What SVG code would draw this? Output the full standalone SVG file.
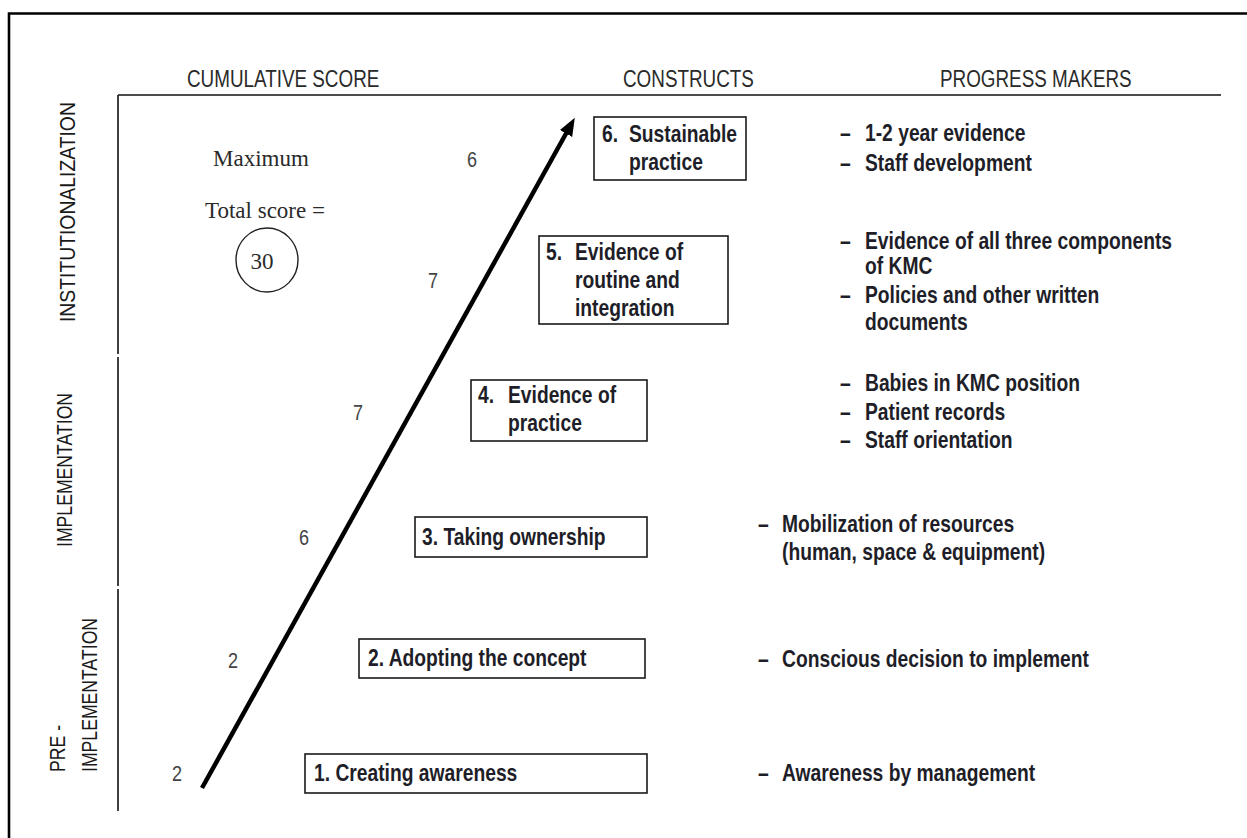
<svg xmlns="http://www.w3.org/2000/svg" width="1247" height="838" viewBox="0 0 1247 838">
<style>
  .hdr { font-family: "Liberation Sans", Arial, sans-serif; font-size: 23px; fill: #2a2a2a; }
  .side { font-family: "Liberation Sans", Arial, sans-serif; font-size: 21.5px; fill: #1a1a1a; }
  .num { font-family: "Liberation Sans", Arial, sans-serif; font-size: 22px; fill: #444; }
  .serif { font-family: "Liberation Serif", "Times New Roman", serif; font-size: 23px; fill: #2a2a2a; }
  .box { fill: #fff; stroke: #1a1a1a; stroke-width: 1.6; }
  .bt { font-family: "Liberation Sans", Arial, sans-serif; font-weight: bold; font-size: 23.5px; fill: #1e1e28; }
  .rule { stroke: #111; stroke-width: 1.6; fill: none; }
</style>
<defs>
  <marker id="ah" markerUnits="userSpaceOnUse" markerWidth="24" markerHeight="24" refX="4" refY="10" orient="auto">
    <path d="M0,3 L18,10 L0,17 Z" fill="#000"/>
  </marker>
</defs>
<rect width="1247" height="838" fill="#fff"/>
<g id="frame">
  <path d="M9,842 L9,13.5 L1250,13.5" fill="none" stroke="#000" stroke-width="2.6"/>
  <line class="rule" x1="118" y1="95" x2="1221" y2="95"/>
  <line class="rule" x1="118" y1="95" x2="118" y2="354"/>
  <line class="rule" x1="118" y1="357" x2="118" y2="586"/>
  <line class="rule" x1="118" y1="589" x2="118" y2="811"/>
</g>
<g id="headers">
  <text class="hdr" transform="matrix(0.82 0 0 1 187 87)">CUMULATIVE SCORE</text>
  <text class="hdr" transform="matrix(0.82 0 0 1 623 87)">CONSTRUCTS</text>
  <text class="hdr" transform="matrix(0.82 0 0 1 940 87)">PROGRESS MAKERS</text>
</g>
<g id="phases">
  <text class="side" transform="translate(75,322) rotate(-90) scale(0.9,1)">INSTITUTIONALIZATION</text>
  <text class="side" transform="translate(72,547) rotate(-90) scale(0.82,1)">IMPLEMENTATION</text>
  <text class="side" transform="translate(65,772) rotate(-90) scale(0.82,1)">PRE -</text>
  <text class="side" transform="translate(97,772) rotate(-90) scale(0.82,1)">IMPLEMENTATION</text>
</g>
<g id="connectors">
  <line x1="202" y1="788" x2="568" y2="130" stroke="#000" stroke-width="4.5" marker-end="url(#ah)"/>
</g>
<g id="scores">
  <text class="num" transform="matrix(0.82 0 0 1 172 781)">2</text>
  <text class="num" transform="matrix(0.82 0 0 1 228 668)">2</text>
  <text class="num" transform="matrix(0.82 0 0 1 299 545)">6</text>
  <text class="num" transform="matrix(0.82 0 0 1 353 420)">7</text>
  <text class="num" transform="matrix(0.82 0 0 1 428 288)">7</text>
  <text class="num" transform="matrix(0.82 0 0 1 467 167)">6</text>
</g>
<g id="total">
  <text class="serif" x="213" y="166">Maximum</text>
  <text class="serif" x="205" y="218">Total score =</text>
  <ellipse cx="267" cy="260" rx="31" ry="32" fill="none" stroke="#222" stroke-width="1.4"/>
  <text class="serif" x="262" y="269" text-anchor="middle" font-size="21">30</text>
</g>
<g id="c1">
  <rect class="box" x="305" y="754" width="342" height="39"/>
  <text class="bt" transform="matrix(0.82 0 0 1 314 781)">1. Creating awareness</text>
</g>
<g id="c2">
  <rect class="box" x="359" y="639" width="286" height="39"/>
  <text class="bt" transform="matrix(0.82 0 0 1 368 666)">2. Adopting the concept</text>
</g>
<g id="c3">
  <rect class="box" x="415" y="517" width="232" height="40"/>
  <text class="bt" transform="matrix(0.82 0 0 1 422 545)">3. Taking ownership</text>
</g>
<g id="c4">
  <rect class="box" x="471" y="380" width="176" height="61"/>
  <text class="bt" transform="matrix(0.82 0 0 1 478 403)">4.</text>
  <text class="bt" transform="matrix(0.82 0 0 1 508 403)">Evidence of</text>
  <text class="bt" transform="matrix(0.82 0 0 1 508 431)">practice</text>
</g>
<g id="c5">
  <rect class="box" x="539" y="236" width="189" height="88"/>
  <text class="bt" transform="matrix(0.82 0 0 1 546 260)">5.</text>
  <text class="bt" transform="matrix(0.82 0 0 1 575 260)">Evidence of</text>
  <text class="bt" transform="matrix(0.82 0 0 1 575 288)">routine and</text>
  <text class="bt" transform="matrix(0.82 0 0 1 575 316)">integration</text>
</g>
<g id="c6">
  <rect class="box" x="594" y="117" width="152" height="63"/>
  <text class="bt" transform="matrix(0.82 0 0 1 602 142)">6.</text>
  <text class="bt" transform="matrix(0.82 0 0 1 629 142)">Sustainable</text>
  <text class="bt" transform="matrix(0.82 0 0 1 629 170)">practice</text>
</g>
<g id="m6">
  <text class="bt" transform="matrix(0.82 0 0 1 840 141)">–</text>
  <text class="bt" transform="matrix(0.82 0 0 1 865 141)">1-2 year evidence</text>
  <text class="bt" transform="matrix(0.82 0 0 1 840 171)">–</text>
  <text class="bt" transform="matrix(0.82 0 0 1 865 171)">Staff development</text>
</g>
<g id="m5">
  <text class="bt" transform="matrix(0.82 0 0 1 840 249)">–</text>
  <text class="bt" transform="matrix(0.82 0 0 1 865 249)">Evidence of all three components</text>
  <text class="bt" transform="matrix(0.82 0 0 1 865 274)">of KMC</text>
  <text class="bt" transform="matrix(0.82 0 0 1 840 303)">–</text>
  <text class="bt" transform="matrix(0.82 0 0 1 865 303)">Policies and other written</text>
  <text class="bt" transform="matrix(0.82 0 0 1 865 330)">documents</text>
</g>
<g id="m4">
  <text class="bt" transform="matrix(0.82 0 0 1 840 391)">–</text>
  <text class="bt" transform="matrix(0.82 0 0 1 865 391)">Babies in KMC position</text>
  <text class="bt" transform="matrix(0.82 0 0 1 840 420)">–</text>
  <text class="bt" transform="matrix(0.82 0 0 1 865 420)">Patient records</text>
  <text class="bt" transform="matrix(0.82 0 0 1 840 448)">–</text>
  <text class="bt" transform="matrix(0.82 0 0 1 865 448)">Staff orientation</text>
</g>
<g id="m3">
  <text class="bt" transform="matrix(0.82 0 0 1 758 532)">–</text>
  <text class="bt" transform="matrix(0.82 0 0 1 782 532)">Mobilization of resources</text>
  <text class="bt" transform="matrix(0.82 0 0 1 782 560)">(human, space &amp; equipment)</text>
</g>
<g id="m2">
  <text class="bt" transform="matrix(0.82 0 0 1 758 667)">–</text>
  <text class="bt" transform="matrix(0.82 0 0 1 782 667)">Conscious decision to implement</text>
</g>
<g id="m1">
  <text class="bt" transform="matrix(0.82 0 0 1 758 781)">–</text>
  <text class="bt" transform="matrix(0.82 0 0 1 782 781)">Awareness by management</text>
</g>
</svg>
